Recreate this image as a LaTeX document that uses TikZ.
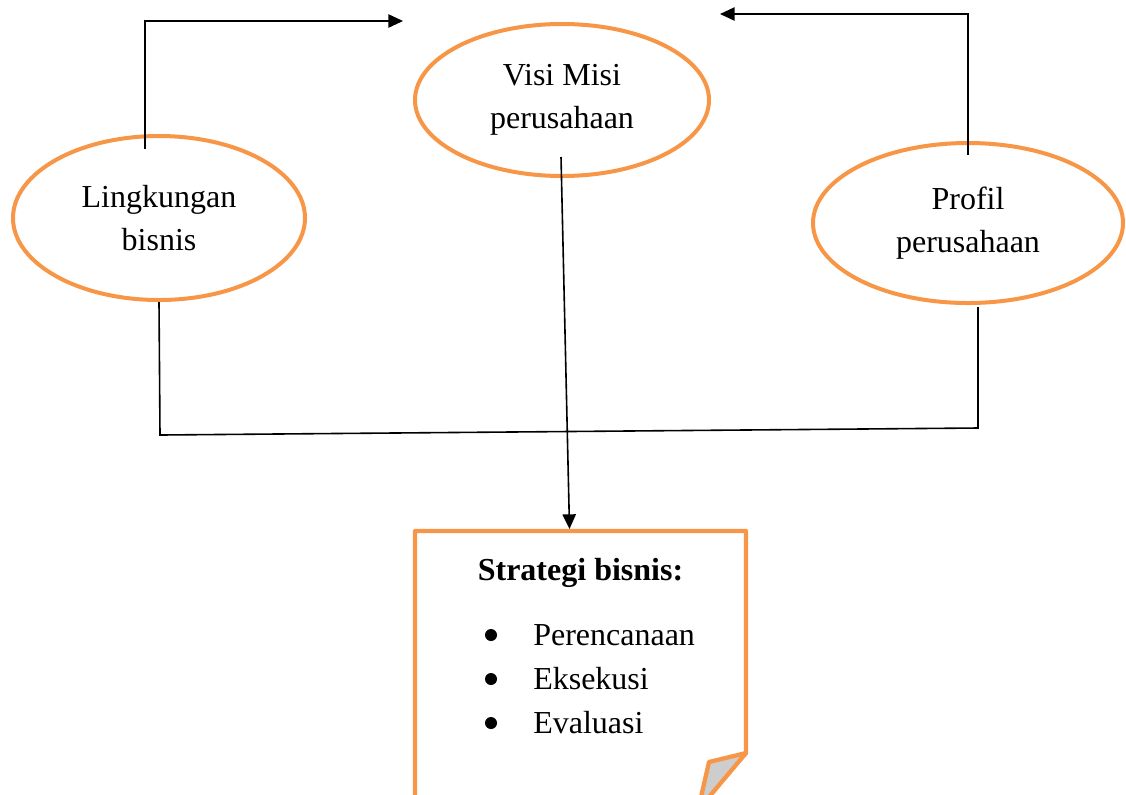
\documentclass[tikz,border=0pt]{standalone}
\usepackage{fontspec}
\setmainfont{Liberation Serif}
\usetikzlibrary{shapes.geometric,arrows.meta,calc,positioning}
\definecolor{oranye}{HTML}{F79646}
\definecolor{lipat}{HTML}{CDCDCD}

\begin{document}
\begin{tikzpicture}[x=0.75pt,y=-0.75pt]
   \tikzstyle{elips}=[draw=oranye, line width=3pt, ellipse, align=center, font=\fontsize{24}{32}\selectfont]
   \tikzstyle{panah}=[draw=black, line width=1.2pt, -{Triangle[length=11pt,width=10pt]}]
   \tikzstyle{garis}=[draw=black, line width=1.2pt]
   \tikzstyle{teks}=[inner sep=0pt, font=\fontsize{24}{33}\selectfont]
   \tikzstyle{butir}=[teks, anchor=base west]

\useasboundingbox (0,0) rectangle (1126,794);

\node[elips, minimum width=219pt, minimum height=123pt] (ling) at (159,218) {Lingkungan\\bisnis};
\node[elips, minimum width=220.5pt, minimum height=114pt] (visi) at (562,100) {Visi Misi\\perusahaan};
\node[elips, minimum width=232.5pt, minimum height=120pt] (profil) at (968,223) {Profil\\perusahaan};

\node[minimum width=248.25pt, minimum height=197pt, anchor=north, inner sep=0pt] (strategi) at (580.5,531) {};
\draw[draw=oranye, line width=3.2pt, line join=round]
    (415,810) -- (415,531) -- (746,531) -- (746,753) -- (694,810);
\draw[draw=oranye, fill=lipat, line width=3.2pt, line join=round]
    (746,753) -- (709,762) -- (698,810) -- cycle;

\node[teks, font=\fontsize{24}{33}\selectfont\bfseries, below=20pt of strategi.north] (judul) {Strategi bisnis:};
\foreach \teksbutir [count=\i] in {Perencanaan, Eksekusi, Evaluasi} {
   \node[butir] (butir\i) at (533,601+44*\i) {\teksbutir};
   \fill ($(butir\i.base west)+(-42,-10)$) circle (4.5pt);
}

\coordinate (ujungkiri) at (403,21);
\coordinate (ujungkanan) at (720,14);
\draw[panah] ($(ling.north)+(-14,15)$) |- (ujungkiri);
\draw[panah] ($(profil.north)+(0,14)$) |- (ujungkanan);
\draw[panah] ($(visi.south)+(-1,-21)$) -- ($(strategi.north)+(-11,-2)$);
\draw[garis] (ling.south) -- ++(1,133) -- ++(818,-7) -- ($(profil.south)+(10,2)$);

\end{tikzpicture}
\end{document}
